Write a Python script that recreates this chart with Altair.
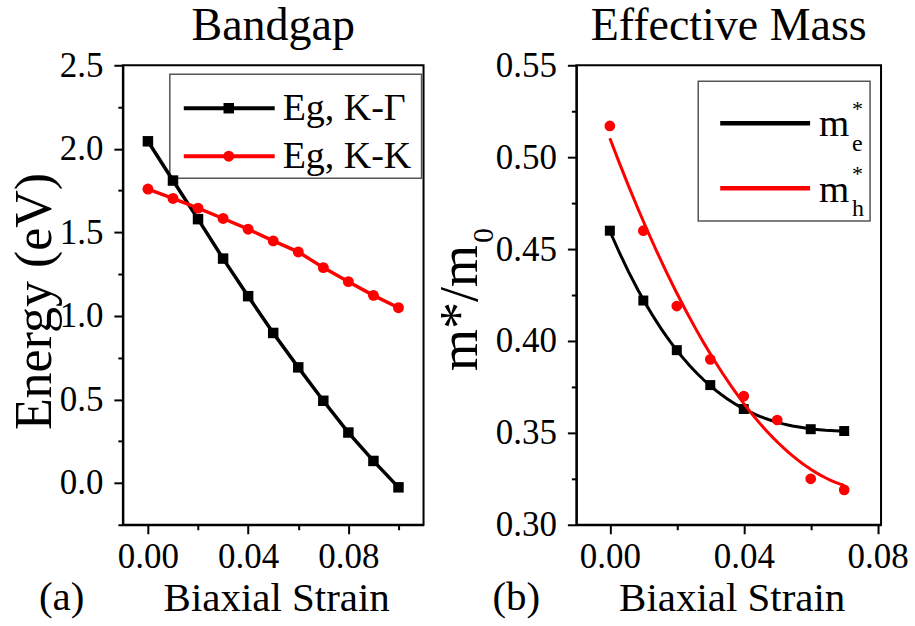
import altair as alt
import pandas as pd

FONT = "Liberation Serif"

# ---------------- data ----------------
# Panel (a): band gap vs biaxial strain
strain_a = [0.00, 0.01, 0.02, 0.03, 0.04, 0.05, 0.06, 0.07, 0.08, 0.09, 0.10]
eg_k_gamma = [2.045, 1.810, 1.579, 1.343, 1.118, 0.898, 0.692, 0.492, 0.302, 0.132, -0.026]
eg_k_k = [1.759, 1.703, 1.645, 1.583, 1.519, 1.449, 1.383, 1.289, 1.205, 1.123, 1.049]

# Panel (b): effective mass vs biaxial strain
strain_e = [0.00, 0.01, 0.02, 0.03, 0.04, 0.06, 0.07]
m_e = [0.460, 0.422, 0.395, 0.376, 0.363, 0.352, 0.351]
strain_h = [0.00, 0.01, 0.02, 0.03, 0.04, 0.05, 0.06, 0.07]
m_h = [0.517, 0.460, 0.419, 0.390, 0.370, 0.357, 0.325, 0.319]

# tick values (major + minor)
xticks_a = [0.00, 0.02, 0.04, 0.06, 0.08, 0.10]
yticks_a = [-0.25, 0.0, 0.25, 0.5, 0.75, 1.0, 1.25, 1.5, 1.75, 2.0, 2.25, 2.5]
xticks_b = [0.00, 0.02, 0.04, 0.06, 0.08]
yticks_b = [0.30, 0.325, 0.35, 0.375, 0.40, 0.425, 0.45, 0.475, 0.50, 0.525, 0.55]

xdom_a = [-0.01, 0.11]
ydom_a = [-0.25, 2.5]
xdom_b = [-0.01, 0.081]
ydom_b = [0.30, 0.55]

W_A, H = 301, 460
W_B = 305


def major(step):
    return f"abs(datum.value/{step} - round(datum.value/{step})) < 1e-6"


def make_axis(values, step, fmt, orient, title, pad, **kw):
    test = major(step)
    return alt.Axis(
        values=values, orient=orient, title=title,
        tickSize={"condition": {"test": test, "value": 9}, "value": 5},
        labelExpr=f"{test} ? format(datum.value, '{fmt}') : ''",
        labelOverlap=False, labelFlush=False, labelPadding=pad, grid=False,
        **kw,
    )


one = pd.DataFrame({"k": [0]})

# ---------------- panel (a) ----------------
axis_xa = make_axis(xticks_a, 0.04, ".2f", "bottom", "Biaxial Strain", 6,
                    titleX=W_A / 2 + 3, titleY=86, titleAlign="center",
                    titleBaseline="alphabetic", titleFontSize=41)
axis_ya = make_axis(yticks_a, 0.5, ".1f", "left", "Energy (eV)", 11,
                    titleX=-72, titleY=H / 2 + 6, titleAngle=270, titleAlign="center",
                    titleBaseline="alphabetic", titleFontSize=52)

X_a = alt.X("strain:Q", scale=alt.Scale(domain=xdom_a, nice=False, zero=False), axis=axis_xa)


def Y_a(field):
    return alt.Y(f"{field}:Q", scale=alt.Scale(domain=ydom_a, nice=False, zero=False), axis=axis_ya)


df_a = pd.DataFrame({"strain": strain_a, "kg": eg_k_gamma, "kk": eg_k_k})
base_a = alt.Chart(df_a)

box_a = alt.Chart(one).mark_rect(fill="white", stroke="#555555", strokeWidth=1.5).encode(
    x=alt.value(47), x2=alt.value(299), y=alt.value(9), y2=alt.value(113))

line_kg = base_a.mark_line(color="black", strokeWidth=3.5).encode(x=X_a, y=Y_a("kg"))
pts_kg = base_a.mark_point(shape="square", filled=True, size=110, color="black", opacity=1).encode(x=X_a, y=Y_a("kg"))
line_kk = base_a.mark_line(color="#ff0000", strokeWidth=3.5).encode(x=X_a, y=Y_a("kk"))
pts_kk = base_a.mark_point(shape="circle", filled=True, size=120, color="#ff0000", opacity=1).encode(x=X_a, y=Y_a("kk"))


def txt(s, x, y, size, align="left", angle=None):
    kw = dict(align=align, baseline="alphabetic", font=FONT, fontSize=size, color="black")
    if angle is not None:
        kw["angle"] = angle
    return alt.Chart(one).mark_text(**kw).encode(x=alt.value(x), y=alt.value(y), text=alt.value(s))


leg_a = [
    alt.Chart(one).mark_rule(color="black", strokeWidth=4).encode(x=alt.value(61), x2=alt.value(152), y=alt.value(43)),
    alt.Chart(one).mark_point(shape="square", filled=True, size=110, color="black", opacity=1).encode(x=alt.value(106), y=alt.value(43)),
    txt("Eg, K-Γ", 160, 55, 38),
    alt.Chart(one).mark_rule(color="#ff0000", strokeWidth=4).encode(x=alt.value(61), x2=alt.value(152), y=alt.value(91)),
    alt.Chart(one).mark_point(shape="circle", filled=True, size=120, color="#ff0000", opacity=1).encode(x=alt.value(106), y=alt.value(91)),
    txt("Eg, K-K", 160, 103, 38),
    txt("(a)", -84, 545, 41),
]

panel_a = alt.layer(box_a, line_kg, pts_kg, line_kk, pts_kk, *leg_a).properties(
    width=W_A, height=H,
    title=alt.TitleParams("Bandgap", font=FONT, fontSize=46, fontWeight="normal", color="black",
                          anchor="middle", frame="group", offset=-2),
)

# ---------------- panel (b) ----------------
axis_xb = make_axis(xticks_b, 0.04, ".2f", "bottom", "Biaxial Strain", 6,
                    titleX=W_B / 2 + 3, titleY=86, titleAlign="center",
                    titleBaseline="alphabetic", titleFontSize=41)
axis_yb = make_axis(yticks_b, 0.05, ".2f", "left", None, 11)

X_b = alt.X("strain:Q", scale=alt.Scale(domain=xdom_b, nice=False, zero=False), axis=axis_xb)


def Y_b(field):
    return alt.Y(f"{field}:Q", scale=alt.Scale(domain=ydom_b, nice=False, zero=False), axis=axis_yb)


df_e = pd.DataFrame({"strain": strain_e, "me": m_e})
df_h = pd.DataFrame({"strain": strain_h, "mh": m_h})

box_b = alt.Chart(one).mark_rect(fill="white", stroke="#555555", strokeWidth=1.5).encode(
    x=alt.value(122), x2=alt.value(294), y=alt.value(16), y2=alt.value(156))

fit_e = alt.Chart(df_e).transform_regression("strain", "me", method="poly", order=3).mark_line(
    color="black", strokeWidth=3).encode(x=X_b, y=Y_b("me"))
pts_e = alt.Chart(df_e).mark_point(shape="square", filled=True, size=100, color="black", opacity=1).encode(x=X_b, y=Y_b("me"))
fit_h = alt.Chart(df_h).transform_regression("strain", "mh", method="poly", order=2).mark_line(
    color="#ff0000", strokeWidth=3).encode(x=X_b, y=Y_b("mh"))
pts_h = alt.Chart(df_h).mark_point(shape="circle", filled=True, size=115, color="#ff0000", opacity=1).encode(x=X_b, y=Y_b("mh"))

leg_b = [
    alt.Chart(one).mark_rule(color="black", strokeWidth=4.5).encode(x=alt.value(144), x2=alt.value(234), y=alt.value(58)),
    txt("m", 243, 71, 39), txt("*", 276, 51, 22), txt("e", 276, 86, 24),
    alt.Chart(one).mark_rule(color="#ff0000", strokeWidth=4.5).encode(x=alt.value(144), x2=alt.value(234), y=alt.value(123)),
    txt("m", 243, 137, 39), txt("*", 276, 116, 22), txt("h", 276, 151, 24),
    # y-axis title m*/m0
    txt("m*/m", -99, 180, 54, align="right", angle=270),
    txt("0", -83, 178, 30, align="left", angle=270),
    txt("(b)", -84, 545, 41),
]

panel_b = alt.layer(box_b, fit_e, pts_e, fit_h, pts_h, *leg_b).properties(
    width=W_B, height=H,
    title=alt.TitleParams("Effective Mass", font=FONT, fontSize=46, fontWeight="normal", color="black",
                          anchor="middle", frame="group", offset=-2),
)

chart = alt.hconcat(panel_a, panel_b, spacing=153, bounds="flush").properties(
    padding={"left": 8, "top": 2, "right": 5, "bottom": 5},
    background="white",
).configure_view(stroke="black", strokeWidth=2).configure_axis(
    domainColor="black", domainWidth=2, tickColor="black", tickWidth=2,
    labelFont=FONT, labelFontSize=35, labelColor="black",
    titleFont=FONT, titleColor="black", titleFontWeight="normal",
)

chart.save("out.html", embed_options={"renderer": "svg", "actions": False})
